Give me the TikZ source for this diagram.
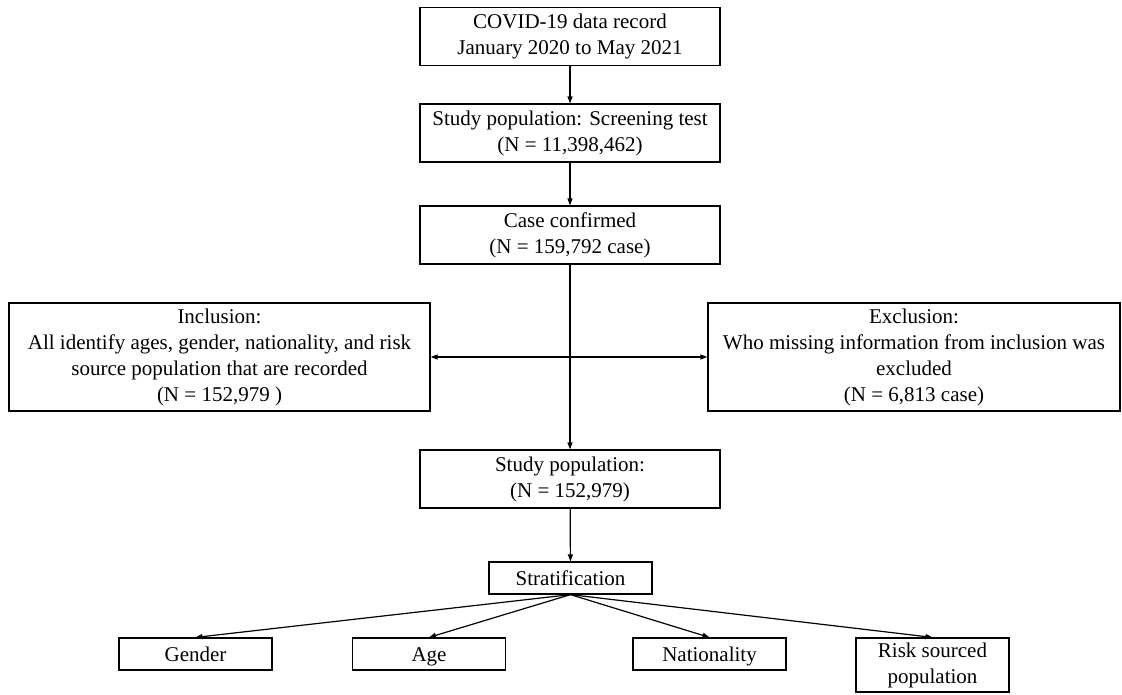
\documentclass[tikz,border=0pt]{standalone}
\usepackage{fontspec}
\setmainfont{Liberation Serif}
\usetikzlibrary{arrows.meta}

\tikzset{
  box/.style={draw=black, line width=1.2pt, align=center, inner sep=0pt,
    font=\fontsize{21}{26}\selectfont},
  midbox/.style={box, minimum width=300pt, minimum height=58pt},
  sidebox/.style={box, minimum height=108pt},
  leafbox/.style={box, minimum width=153pt, minimum height=32pt},
  oneline/.style={text height=16pt, text depth=2pt},
  tip/.tip={Triangle[length=7pt,width=5pt]},
  arr/.style={-tip, line width=1.2pt, black},
}

\begin{document}
\begin{tikzpicture}[x=1pt,y=-1pt]
        \useasboundingbox (0,0) rectangle (1122,694);

        \node[midbox] (rec) at (570,36.5) {COVID-19 data record\\January 2020 to May 2021};
        \node[midbox] (screen) at (570,133) {Study population: Screening test\\(N = 11,398,462)};
        \node[midbox] (confirmed) at (570,235) {Case confirmed\\(N = 159,792 case)};
        \node[sidebox, minimum width=421pt] (incl) at (219.5,357) {Inclusion:\\All identify ages, gender, nationality, and risk\\source population that are recorded\\(N = 152,979 )};
        \node[sidebox, minimum width=412pt] (excl) at (914,357) {Exclusion:\\Who missing information from inclusion was\\excluded\\(N = 6,813 case)};
        \node[midbox] (studypop) at (570,479) {Study population:\\(N = 152,979)};
        \node[box, oneline, minimum width=163pt, minimum height=32pt] (strat) at (570.5,578) {Stratification};

        \node[leafbox, oneline] (gender) at (195.5,654) {Gender};
        \node[leafbox, oneline] (age) at (429,654) {Age};
        \node[leafbox, oneline] (nation) at (709.5,654) {Nationality};
        \node[leafbox, minimum height=54pt] (risk) at (932.5,665) {Risk sourced\\population};

        \draw[arr] (rec) -- (screen);
        \draw[arr] (screen) -- (confirmed);
        \draw[arr] (confirmed) -- (studypop);
        \draw[arr, tip-tip] (incl.east) -- (incl.east -| excl.west);
        \draw[arr] (studypop) -- (strat);
        \draw[arr] (strat.south) -- (gender.north);
        \draw[arr] (strat.south) -- (age.north);
        \draw[arr] (strat.south) -- (nation.north);
        \draw[arr] (strat.south) -- (risk.north);

\end{tikzpicture}
\end{document}
